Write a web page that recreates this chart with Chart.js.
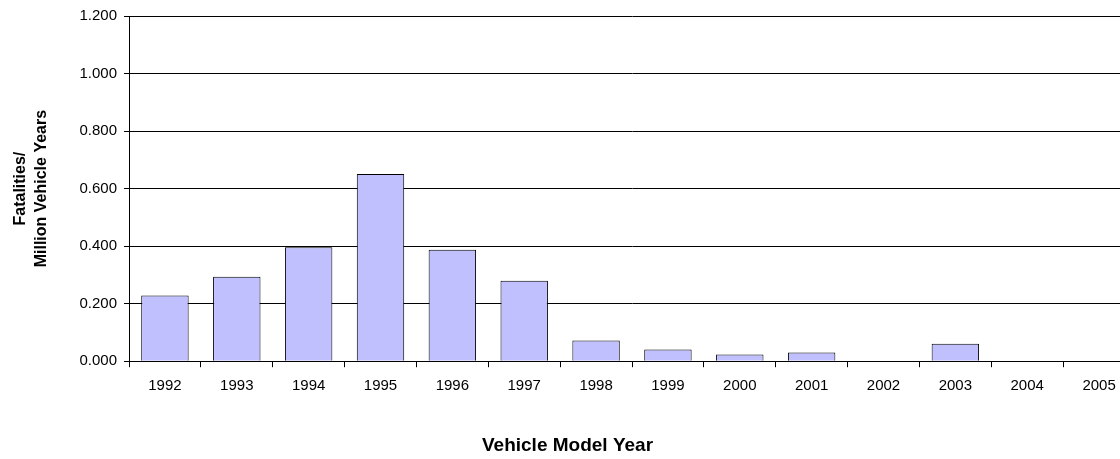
<!DOCTYPE html>
<html>
<head>
<meta charset="utf-8">
<script src="https://cdn.jsdelivr.net/npm/chart.js@4/dist/chart.umd.min.js"></script>
<style>
  html, body { margin: 0; padding: 0; background: #fff; overflow: hidden; width: 1120px; height: 459px; }
  #wrap { width: 1148px; height: 459px; }
</style>
</head>
<body>
<div id="wrap"><canvas id="c" width="1148" height="459"></canvas></div>
<script>
const categories = ['1992','1993','1994','1995','1996','1997','1998','1999','2000','2001','2002','2003','2004','2005'];
const fatalityRates = [0.228, 0.294, 0.396, 0.651, 0.387, 0.280, 0.072, 0.041, 0.023, 0.030, 0, 0.061, 0, 0];
const yTicks = [0, 0.2, 0.4, 0.6, 0.8, 1.0, 1.2];
const xTitle = 'Vehicle Model Year';
const yTitle = ['Fatalities/', 'Million Vehicle Years'];

const FONT = "'Liberation Sans', Arial, sans-serif";

new Chart(document.getElementById('c'), {
  type: 'bar',
  data: {
    labels: categories,
    datasets: [{
      data: fatalityRates,
      backgroundColor: '#c0c0ff',
      borderColor: '#000000',
      borderWidth: 1,
      barPercentage: 0.66,
      categoryPercentage: 1.0
    }]
  },
  options: {
    responsive: false,
    animation: false,
    devicePixelRatio: 1,
    layout: { padding: { left: 0, right: 13, top: 11, bottom: 0 } },
    plugins: {
      legend: { display: false },
      tooltip: { enabled: false },
      title: {
        display: true,
        position: 'bottom',
        text: xTitle,
        color: '#000',
        font: { family: FONT, size: 19, weight: 'bold' },
        padding: { top: 29, bottom: 2 }
      }
    },
    scales: {
      x: {
        offset: true,
        grid: { display: true, offset: true, drawOnChartArea: false, drawTicks: true, tickLength: 6, color: '#000', lineWidth: 1 },
        border: { display: true, color: '#000', width: 1 },
        ticks: { color: '#000', font: { family: FONT, size: 15 }, padding: 10, maxRotation: 0, autoSkip: false }
      },
      y: {
        min: 0,
        max: 1.2,
        afterBuildTicks: (s) => { s.ticks = yTicks.map(v => ({ value: v })); },
        afterFit: (s) => { s.width = 129; },
        grid: { display: true, drawOnChartArea: true, drawTicks: true, tickLength: 5, color: '#000', lineWidth: 1 },
        border: { display: true, color: '#000', width: 1 },
        ticks: {
          color: '#000',
          font: { family: FONT, size: 15 },
          padding: 7,
          callback: (v) => Number(v).toFixed(3)
        },
        title: {
          display: true,
          text: yTitle,
          color: '#000',
          font: { family: FONT, size: 16, weight: 'bold', lineHeight: 1.3 },
          padding: { top: 10, bottom: 0 }
        }
      }
    }
  }
});
</script>
</body>
</html>
